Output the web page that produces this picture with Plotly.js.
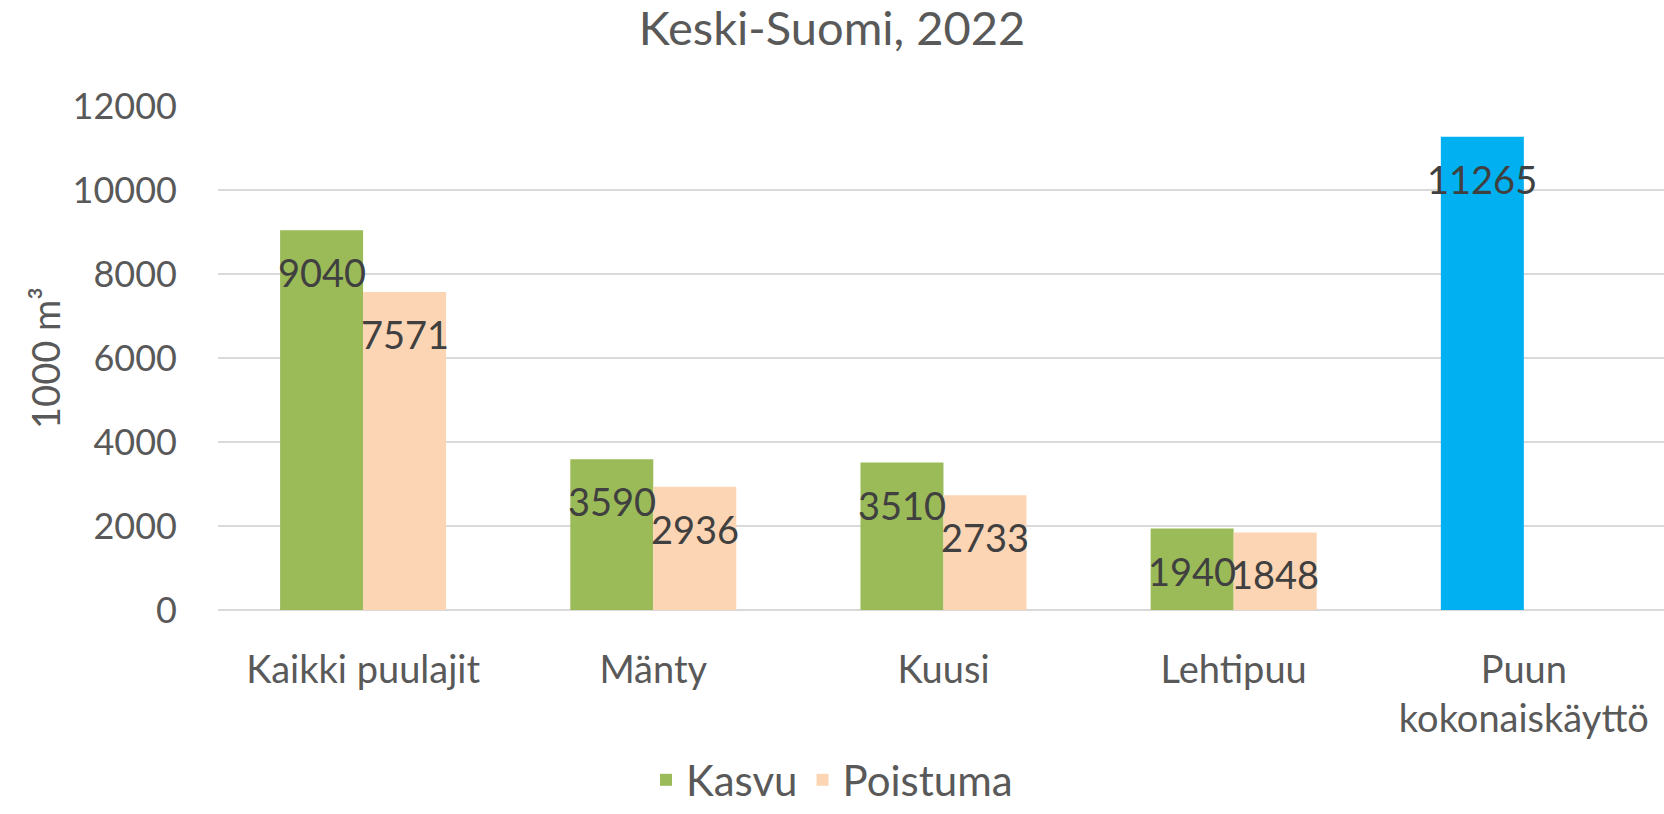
<!DOCTYPE html>
<html>
<head>
<meta charset="utf-8">
<script src="https://cdn.plot.ly/plotly-3.0.1.min.js"></script>
<style>
  html, body { margin: 0; padding: 0; background: #ffffff; }
  #chart { width: 1664px; height: 814px; }
</style>
</head>
<body>
<div id="chart"></div>
<script>
// ---- Data ----
const categories = ["Kaikki puulajit", "Mänty", "Kuusi", "Lehtipuu", "Puun<br>kokonaiskäyttö"];
const kasvu = [9040, 3590, 3510, 1940, 11265];
const poistuma = [7571, 2936, 2733, 1848, null];
const kasvuColors = ["#9BBB59", "#9BBB59", "#9BBB59", "#9BBB59", "#00B0F0"];
const seriesNames = ["Kasvu", "Poistuma"];
const yTicks = [0, 2000, 4000, 6000, 8000, 10000, 12000];

const FONT = "Lato, 'Open Sans', sans-serif";
const GRAY = "#595959";
const LABEL = "#404040";
const bargap = 0.428;
const half = (1 - bargap) / 4;

const traces = [
  {
    type: "bar", name: seriesNames[0], x: categories, y: kasvu,
    marker: { color: kasvuColors }, hoverinfo: "x+y"
  },
  {
    type: "bar", name: seriesNames[1], x: categories, y: poistuma,
    marker: { color: "#FCD5B5" }, hoverinfo: "x+y"
  }
];

const annotations = [];
[kasvu, poistuma].forEach((vals, s) => {
  vals.forEach((v, i) => {
    if (v === null || v === undefined) return;
    annotations.push({
      x: i + (s === 0 ? -half : half), y: v, xref: "x", yref: "y",
      text: String(v), showarrow: false, yanchor: "middle", yshift: -42,
      font: { family: FONT, size: 38, color: LABEL }
    });
  });
});

const layout = {
  width: 1664, height: 814,
  margin: { l: 218, r: 0, t: 106, b: 204 },
  paper_bgcolor: "#ffffff", plot_bgcolor: "#ffffff",
  font: { family: FONT, color: GRAY },
  title: {
    text: "Keski-Suomi, 2022", x: 0.5, xref: "container", xanchor: "center",
    y: 0.965, yref: "container", yanchor: "middle",
    font: { family: FONT, size: 47, color: GRAY }
  },
  barmode: "group", bargap: bargap, bargroupgap: 0,
  xaxis: {
    type: "category", range: [-0.5, 4.483],
    showgrid: false, showline: false, ticks: "",
    tickfont: { family: FONT, size: 38, color: GRAY },
    ticklabelstandoff: 34, automargin: false
  },
  yaxis: {
    range: [0, 12000], tickvals: yTicks, ticktext: yTicks.map(String),
    showgrid: true, gridcolor: "#d9d9d9", gridwidth: 2,
    zeroline: true, zerolinecolor: "#d9d9d9", zerolinewidth: 2,
    showline: false, ticks: "",
    tickfont: { family: FONT, size: 36, color: GRAY },
    ticklabelstandoff: 40, automargin: false,
    title: { text: "1000 m³", font: { family: FONT, size: 38, color: GRAY }, standoff: 0 }
  },
  showlegend: true,
  legend: {
    orientation: "h", xref: "container", yref: "container",
    x: 0.5, xanchor: "center", y: -0.012, yanchor: "bottom",
    font: { family: FONT, size: 42, color: GRAY },
    itemsizing: "constant", traceorder: "normal",
    tracegroupgap: 0, itemwidth: 30
  },
  annotations: annotations
};

Plotly.newPlot("chart", traces, layout, { displayModeBar: false, staticPlot: true });
</script>
</body>
</html>
